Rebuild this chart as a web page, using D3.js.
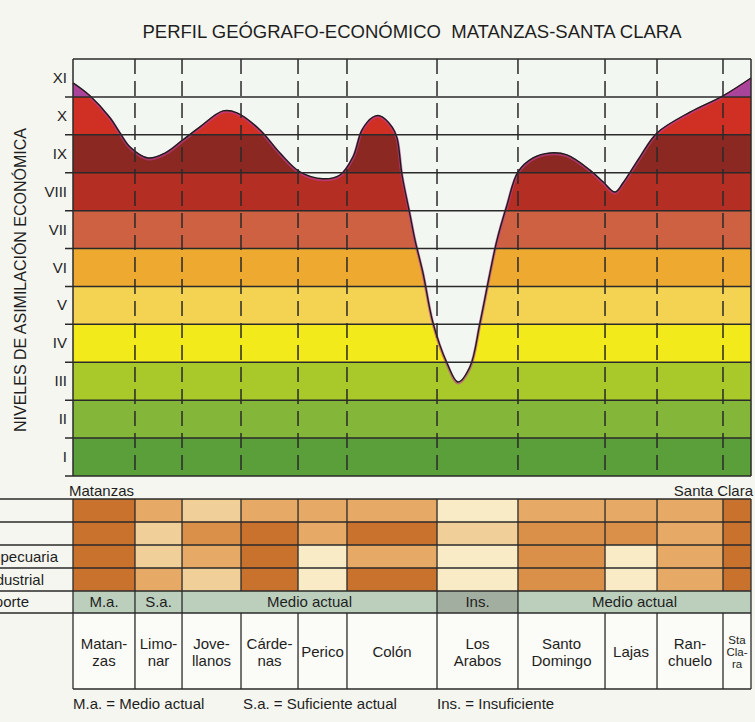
<!DOCTYPE html>
<html>
<head>
<meta charset="utf-8">
<script src="https://cdn.jsdelivr.net/npm/d3@7"></script>
<style>
  body { margin: 0; background: #f5f6f0; }
  svg { display: block; font-family: "Liberation Sans", Arial, sans-serif; }
</style>
</head>
<body>
<script>
// niveles de asimilacion
var levels = ["I", "II", "III", "IV", "V", "VI", "VII", "VIII", "IX", "X", "XI"];
var levelColors = ["#5b9f3b", "#84b63a", "#a9c92b", "#f3ea1c", "#f4d352", "#eeaa30",
                   "#cd6142", "#b42e23", "#8b2822", "#d02f23", "#a8459a"];

// perfil: posicion a lo largo del recorrido (0-100) y nivel
var profilePos = [0, 2.5, 5.46, 6.93, 8.41, 11.06, 13.57, 16.22, 18.73, 22.12, 24.19, 27.58,
  30.53, 33.48, 36.87, 39.38, 41.3, 42.63, 44.25, 45.28, 47.05, 47.79, 48.53, 49.71, 50.44,
  51.62, 53.1, 55.16, 56.78, 58.55, 60.03, 61.5, 62.54, 64.01, 65.63, 67.85, 70.35, 72.86,
  76.25, 78.17, 79.94, 81.12, 83.63, 86.14, 91.0, 95.87, 100];
var profileLevel = [10.37, 10.03, 9.45, 9.05, 8.68, 8.39, 8.52, 8.87, 9.21, 9.63, 9.58, 9.13,
  8.52, 8.02, 7.84, 7.94, 8.42, 9.13, 9.47, 9.5, 9.21, 8.92, 7.94, 6.89, 6.23,
  5.36, 4.04, 2.98, 2.48, 2.88, 4.04, 5.36, 6.23, 7.15, 8.02, 8.39, 8.52, 8.47,
  8.07, 7.76, 7.49, 7.73, 8.42, 9.05, 9.6, 10.03, 10.5];

// localidades y sus limites
var towns = ["Matan-|zas", "Limo-|nar", "Jove-|llanos", "Cárde-|nas", "Perico", "Colón",
             "Los|Arabos", "Santo|Domingo", "Lajas", "Ran-|chuelo", "Sta|Cla-|ra"];
var townEdges = [0, 9.14, 16.08, 24.78, 33.19, 40.41, 53.69, 65.63, 78.47, 86.14, 95.87, 100];

// tabla (1 = insuficiente ... 5 = alto)
var rowLabels = ["", "", "Agropecuaria", "Industrial"];
var row1 = [5, 3, 2, 3, 3, 3, 1, 3, 3, 3, 5];
var row2 = [5, 2, 4, 5, 3, 5, 2, 4, 4, 3, 5];
var row3 = [5, 2, 3, 5, 1, 3, 1, 4, 1, 3, 5];
var row4 = [5, 3, 2, 5, 1, 5, 1, 4, 1, 3, 5];
var shadeColors = ["#f8ebc6", "#f0cf99", "#e6aa66", "#da9049", "#c9722e"];

var transportLabels = ["M.a.", "S.a.", "Medio actual", "Ins.", "Medio actual"];
var transportFrom = [0, 1, 2, 6, 7];
var transportTo = [1, 2, 6, 7, 11];

var W = 755, H = 722;
var pLeft = 73, pRight = 751, pTop = 59, pBottom = 476;
var ink = "#1e1e1e";

var svg = d3.select("body").append("svg")
  .attr("width", W).attr("height", H);

var x = d3.scaleLinear().domain([0, 100]).range([pLeft, pRight]);
var y = d3.scaleLinear().domain([0, 11]).range([pBottom, pTop]);

svg.append("text")
  .attr("x", 412).attr("y", 38)
  .attr("text-anchor", "middle")
  .attr("font-size", 18.5)
  .attr("fill", ink)
  .attr("xml:space", "preserve")
  .text("PERFIL GEÓGRAFO-ECONÓMICO  MATANZAS-SANTA CLARA");

svg.append("text")
  .attr("transform", "translate(26,280) rotate(-90)")
  .attr("text-anchor", "middle")
  .attr("font-size", 16)
  .attr("fill", ink)
  .text("NIVELES DE ASIMILACIÓN ECONÓMICA");

// fondo sobre la curva
svg.append("rect")
  .attr("x", pLeft).attr("y", pTop)
  .attr("width", pRight - pLeft).attr("height", pBottom - pTop)
  .attr("fill", "#f3f7f1");

var pts = profilePos.map(function(p, i) { return [p, profileLevel[i]]; });

var area = d3.area()
  .x(function(d) { return x(d[0]); })
  .y0(pBottom)
  .y1(function(d) { return y(d[1]); })
  .curve(d3.curveCatmullRom.alpha(0.5));

svg.append("clipPath").attr("id", "under")
  .append("path").attr("d", area(pts));

var bands = svg.append("g").attr("clip-path", "url(#under)");
bands.selectAll("rect")
  .data(levels)
  .enter().append("rect")
  .attr("x", pLeft)
  .attr("width", pRight - pLeft)
  .attr("y", function(d, i) { return y(i + 1); })
  .attr("height", function(d, i) { return y(i) - y(i + 1); })
  .attr("fill", function(d, i) { return levelColors[i]; });

var line = d3.line()
  .x(function(d) { return x(d[0]); })
  .y(function(d) { return y(d[1]); })
  .curve(d3.curveCatmullRom.alpha(0.5));

svg.append("path")
  .attr("d", line(pts))
  .attr("fill", "none")
  .attr("stroke", "#c2409a")
  .attr("stroke-width", 3)
  .attr("opacity", 0.6)
  .attr("transform", "translate(0,1)");
svg.append("path")
  .attr("d", line(pts))
  .attr("fill", "none")
  .attr("stroke", "#1d1d1d")
  .attr("stroke-width", 1.4);

// rejilla
var grid = svg.append("g").attr("stroke", "#2a2a2a");
grid.selectAll("line.h")
  .data(d3.range(0, 12))
  .enter().append("line")
  .attr("x1", function(d) { return d == 11 ? pLeft : pLeft - 8; })
  .attr("x2", pRight)
  .attr("y1", function(d) { return y(d); })
  .attr("y2", function(d) { return y(d); })
  .attr("stroke-width", 1.5);

grid.selectAll("line.v")
  .data(townEdges.slice(1, -1))
  .enter().append("line")
  .attr("x1", function(d) { return x(d); })
  .attr("x2", function(d) { return x(d); })
  .attr("y1", pTop).attr("y2", pBottom)
  .attr("stroke-width", 1.5)
  .attr("stroke-dasharray", "15,7");

grid.append("line").attr("x1", pLeft).attr("x2", pLeft).attr("y1", pTop).attr("y2", pBottom).attr("stroke-width", 1.5);
grid.append("line").attr("x1", pRight).attr("x2", pRight).attr("y1", pTop).attr("y2", pBottom).attr("stroke-width", 1.5);

svg.selectAll("text.lev")
  .data(levels)
  .enter().append("text")
  .attr("x", 67)
  .attr("y", function(d, i) { return (y(i) + y(i + 1)) / 2 + 5; })
  .attr("text-anchor", "end")
  .attr("font-size", 15)
  .attr("fill", ink)
  .text(function(d) { return d; });

// tabla
var rowY = [499, 522, 545, 568, 591, 613, 689];
var rows = [row1, row2, row3, row4];
var table = svg.append("g");

svg.append("text").attr("x", 69).attr("y", 496).attr("font-size", 15).attr("fill", ink).text("Matanzas");
svg.append("text").attr("x", 753).attr("y", 496).attr("text-anchor", "end").attr("font-size", 15).attr("fill", ink).text("Santa Clara");

rows.forEach(function(r, ri) {
  table.selectAll(null)
    .data(r)
    .enter().append("rect")
    .attr("x", function(d, i) { return x(townEdges[i]); })
    .attr("width", function(d, i) { return x(townEdges[i + 1]) - x(townEdges[i]); })
    .attr("y", rowY[ri])
    .attr("height", rowY[ri + 1] - rowY[ri])
    .attr("fill", function(d) { return shadeColors[d - 1]; });
});

table.selectAll(null)
  .data(transportLabels)
  .enter().append("rect")
  .attr("x", function(d, i) { return x(townEdges[transportFrom[i]]); })
  .attr("width", function(d, i) { return x(townEdges[transportTo[i]]) - x(townEdges[transportFrom[i]]); })
  .attr("y", rowY[4]).attr("height", rowY[5] - rowY[4])
  .attr("fill", function(d) { return d == "Ins." ? "#a2ae9f" : "#bccfbd"; });

table.selectAll(null)
  .data(transportLabels)
  .enter().append("text")
  .attr("x", function(d, i) { return (x(townEdges[transportFrom[i]]) + x(townEdges[transportTo[i]])) / 2; })
  .attr("y", (rowY[4] + rowY[5]) / 2 + 5)
  .attr("text-anchor", "middle")
  .attr("font-size", 15)
  .attr("fill", ink)
  .text(function(d) { return d; });

table.append("rect")
  .attr("x", pLeft).attr("y", rowY[5])
  .attr("width", pRight - pLeft).attr("height", rowY[6] - rowY[5])
  .attr("fill", "#fbfbf7");

var tl = table.append("g").attr("stroke", "#2a2a2a").attr("stroke-width", 1.3);
rowY.forEach(function(yy, i) {
  tl.append("line").attr("x1", i == 6 ? pLeft : 0).attr("x2", pRight).attr("y1", yy).attr("y2", yy);
});
townEdges.forEach(function(e) {
  tl.append("line").attr("x1", x(e)).attr("x2", x(e)).attr("y1", rowY[0]).attr("y2", rowY[4]);
  tl.append("line").attr("x1", x(e)).attr("x2", x(e)).attr("y1", rowY[5]).attr("y2", rowY[6]);
});
transportFrom.concat([11]).forEach(function(k) {
  tl.append("line").attr("x1", x(townEdges[k])).attr("x2", x(townEdges[k])).attr("y1", rowY[4]).attr("y2", rowY[5]);
});

// etiquetas de filas (cortadas por el borde, como en el original)
var labelEnd = [0, 0, 58, 44];
rowLabels.forEach(function(t, i) {
  if (!t) return;
  svg.append("text").attr("x", labelEnd[i]).attr("y", (rowY[i] + rowY[i + 1]) / 2 + 5)
    .attr("text-anchor", "end").attr("font-size", 15).attr("fill", ink).text(t);
});
svg.append("text").attr("x", 29).attr("y", (rowY[4] + rowY[5]) / 2 + 5)
  .attr("text-anchor", "end").attr("font-size", 15).attr("fill", ink).text("Transporte");

// nombres
towns.forEach(function(t, i) {
  var parts = t.split("|");
  var cx = (x(townEdges[i]) + x(townEdges[i + 1])) / 2;
  var lh = parts.length > 2 ? 12 : 17;
  var fs = parts.length > 2 ? 11.5 : 15;
  var y0 = 652 - (parts.length - 1) * lh / 2;
  parts.forEach(function(p, j) {
    svg.append("text")
      .attr("x", cx).attr("y", y0 + j * lh + (parts.length > 2 ? 4 : 5))
      .attr("text-anchor", "middle")
      .attr("font-size", fs)
      .attr("fill", ink)
      .text(p);
  });
});

// leyenda
var legendText = ["M.a. = Medio actual", "S.a. = Suficiente actual", "Ins. = Insuficiente"];
var legendX = [73, 243, 437];
legendText.forEach(function(t, i) {
  svg.append("text").attr("x", legendX[i]).attr("y", 709)
    .attr("font-size", 15).attr("fill", ink).text(t);
});
</script>
</body>
</html>
